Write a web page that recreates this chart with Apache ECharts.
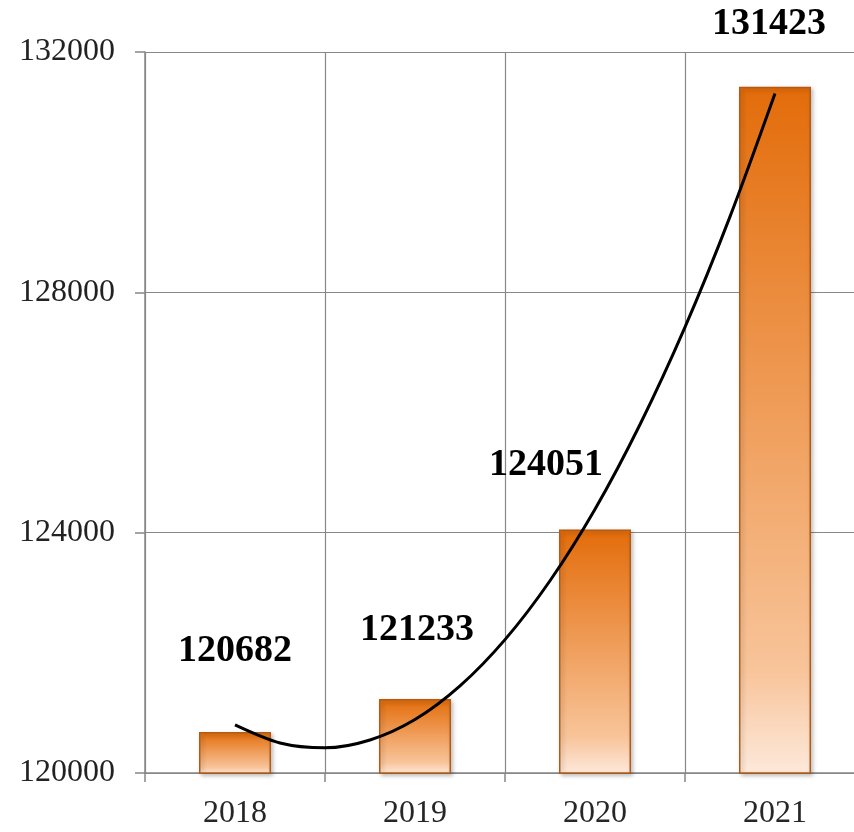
<!DOCTYPE html>
<html>
<head>
<meta charset="utf-8">
<script src="https://cdn.jsdelivr.net/npm/echarts@6/dist/echarts.min.js"></script>
<style>html,body{margin:0;padding:0;background:#fff;overflow:hidden}#c{width:880px;height:832px}</style>
</head>
<body>
<div id="c"></div>
<script>
// Data
const categories = ['2018', '2019', '2020', '2021'];
const values = [120682, 121233, 124051, 131423];
// Polynomial trendline at quarter-category steps (x = category index)
const trendX = [0, 0.25, 0.5, 0.75, 1, 1.25, 1.5, 1.75, 2, 2.25, 2.5, 2.75, 3];
const trendY = [120800, 120500, 120420, 120550, 120890, 121450, 122220, 123200, 124390, 125800, 127420, 129260, 131310];
const yTicks = [120000, 124000, 128000, 132000];

// label placement (manual offsets as in the reference)
const labelOffsets = [[0, -62], [2, -50], [-49, -45], [-6, -43]];

const chart = echarts.init(document.getElementById('c'));
const font = '"Liberation Serif", "Times New Roman", serif';
chart.setOption({
  animation: false,
  grid: { left: 145, right: 15, top: 52, bottom: 59 },
  xAxis: [{
    type: 'category',
    data: categories,
    boundaryGap: true,
    axisLine: { lineStyle: { color: '#878787', width: 1.5 } },
    axisTick: { show: true, length: 9, lineStyle: { color: '#878787', width: 1.5 } },
    axisLabel: { fontFamily: font, fontSize: 32, color: '#262626', margin: 25 },
    splitLine: { show: true, interval: 0, lineStyle: { color: '#888888', width: 1.2 } }
  }, {
    type: 'value',
    min: -0.5, max: 3.5,
    show: false
  }],
  yAxis: {
    type: 'value',
    min: yTicks[0], max: yTicks[yTicks.length - 1], interval: 4000,
    axisLine: { show: true, onZero: false, lineStyle: { color: '#878787', width: 1.5 } },
    axisTick: { show: true, length: 10, lineStyle: { color: '#878787', width: 1.5 } },
    axisLabel: { fontFamily: font, fontSize: 32, color: '#222222', margin: 30, formatter: v => String(v) },
    splitLine: { show: true, lineStyle: { color: '#888888', width: 1.2 } }
  },
  series: [{
    type: 'bar',
    data: values.map((v, i) => ({
      value: v,
      label: { offset: labelOffsets[i] }
    })),
    barWidth: '40%',
    itemStyle: {
      color: new echarts.graphic.LinearGradient(0, 0, 0, 1, [
        { offset: 0, color: '#E36C0A' },
        { offset: 0.5, color: '#F0A05E' },
        { offset: 0.85, color: '#F8C49A' },
        { offset: 1, color: '#FDE9DB' }
      ]),
      borderColor: '#B45A12',
      borderWidth: 1.5,
      shadowColor: 'rgba(0,0,0,0.25)',
      shadowBlur: 4,
      shadowOffsetX: 2,
      shadowOffsetY: 2
    },
    label: {
      show: true,
      position: 'top',
      distance: 0,
      fontFamily: font,
      fontSize: 38,
      fontWeight: 'bold',
      color: '#000'
    },
    z: 2
  }, {
    type: 'line',
    xAxisIndex: 1,
    data: trendX.map((x, i) => [x, trendY[i]]),
    smooth: 0.3,
    symbol: 'none',
    lineStyle: { color: '#000', width: 3 },
    z: 3
  }]
});
</script>
</body>
</html>
